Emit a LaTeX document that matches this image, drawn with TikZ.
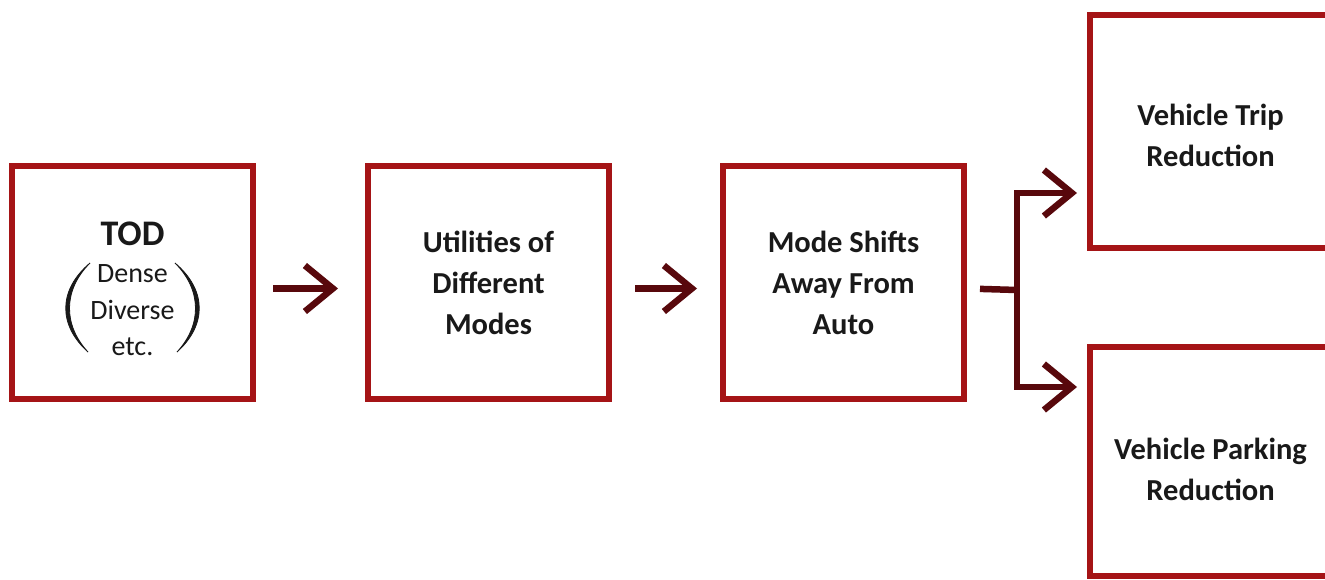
\documentclass[tikz,border=0pt]{standalone}
\usepackage{fontspec}
\setmainfont{Carlito}
\usetikzlibrary{arrows.meta}
\definecolor{boxred}{RGB}{165,20,22}
\definecolor{arrowred}{RGB}{88,8,12}
\definecolor{ink}{RGB}{25,25,25}
\begin{document}
\begin{tikzpicture}[x=1pt,y=-1pt,
  box/.style={draw=boxred,line width=6pt,fill=white,minimum width=241pt,minimum height=233pt,inner sep=0pt,align=center,text=ink,font=\fontsize{30.5}{41}\selectfont\bfseries},
  small/.style={anchor=base,inner sep=0pt,text=ink,font=\fontsize{28}{36}\selectfont},
  paren/.style={fill=ink,draw=ink,line width=0.8pt,line cap=round},
  link/.style={draw=arrowred,line width=6.5pt},
  conn/.style={link,-{Straight Barb[length=28pt,width=46pt]}}]
\useasboundingbox[fill=white] (0,0) rectangle (1325,579);
\node[box] (b1) at (132.5,282.5) {};
\node[anchor=base,inner sep=0pt,text=ink,font=\fontsize{36}{40}\selectfont\bfseries] (tod) at (132.5,245) {TOD};
\node[small] (d1) at (132.5,282) {Dense};
\node[small] (d2) at (132.5,319) {Diverse};
\node[small] (d3) at (132.5,355) {etc.};
\fill[paren] (90,263) .. controls (58,290) and (58,325) .. (88,352) .. controls (63,325) and (63,290) .. (90,263) -- cycle;
\fill[paren] (175,263) .. controls (207,290) and (207,325) .. (177,352) .. controls (202,325) and (202,290) .. (175,263) -- cycle;
\node[box] (b2) at (488.5,282.5) {Utilities of\\Different\\Modes};
\node[box] (b3) at (843.5,282.5) {Mode Shifts\\Away From\\Auto};
\node[box] (b4) at (1210.5,131) {\rule{0pt}{30pt}Vehicle Trip\\Reduction};
\node[box,minimum height=229pt] (b5) at (1210.5,461) {\rule{0pt}{38pt}Vehicle Parking\\Reduction};
\coordinate (split) at (1017,290);
\coordinate (t4) at (1090,193);
\coordinate (t5) at (1090,387);
\draw[conn,shorten <=17pt,shorten >=27pt] ([yshift=-6pt]b1.east) -- ([yshift=-6pt]b2.west);
\draw[conn,shorten <=23pt,shorten >=23pt] ([yshift=-6pt]b2.east) -- ([yshift=-6pt]b3.west);
\draw[link,shorten <=13pt] ([yshift=-6pt]b3.east) -- (split);
\draw[conn,shorten >=13pt] (split) |- (t4);
\draw[conn,shorten >=13pt] (split) |- (t5);
\end{tikzpicture}
\end{document}
